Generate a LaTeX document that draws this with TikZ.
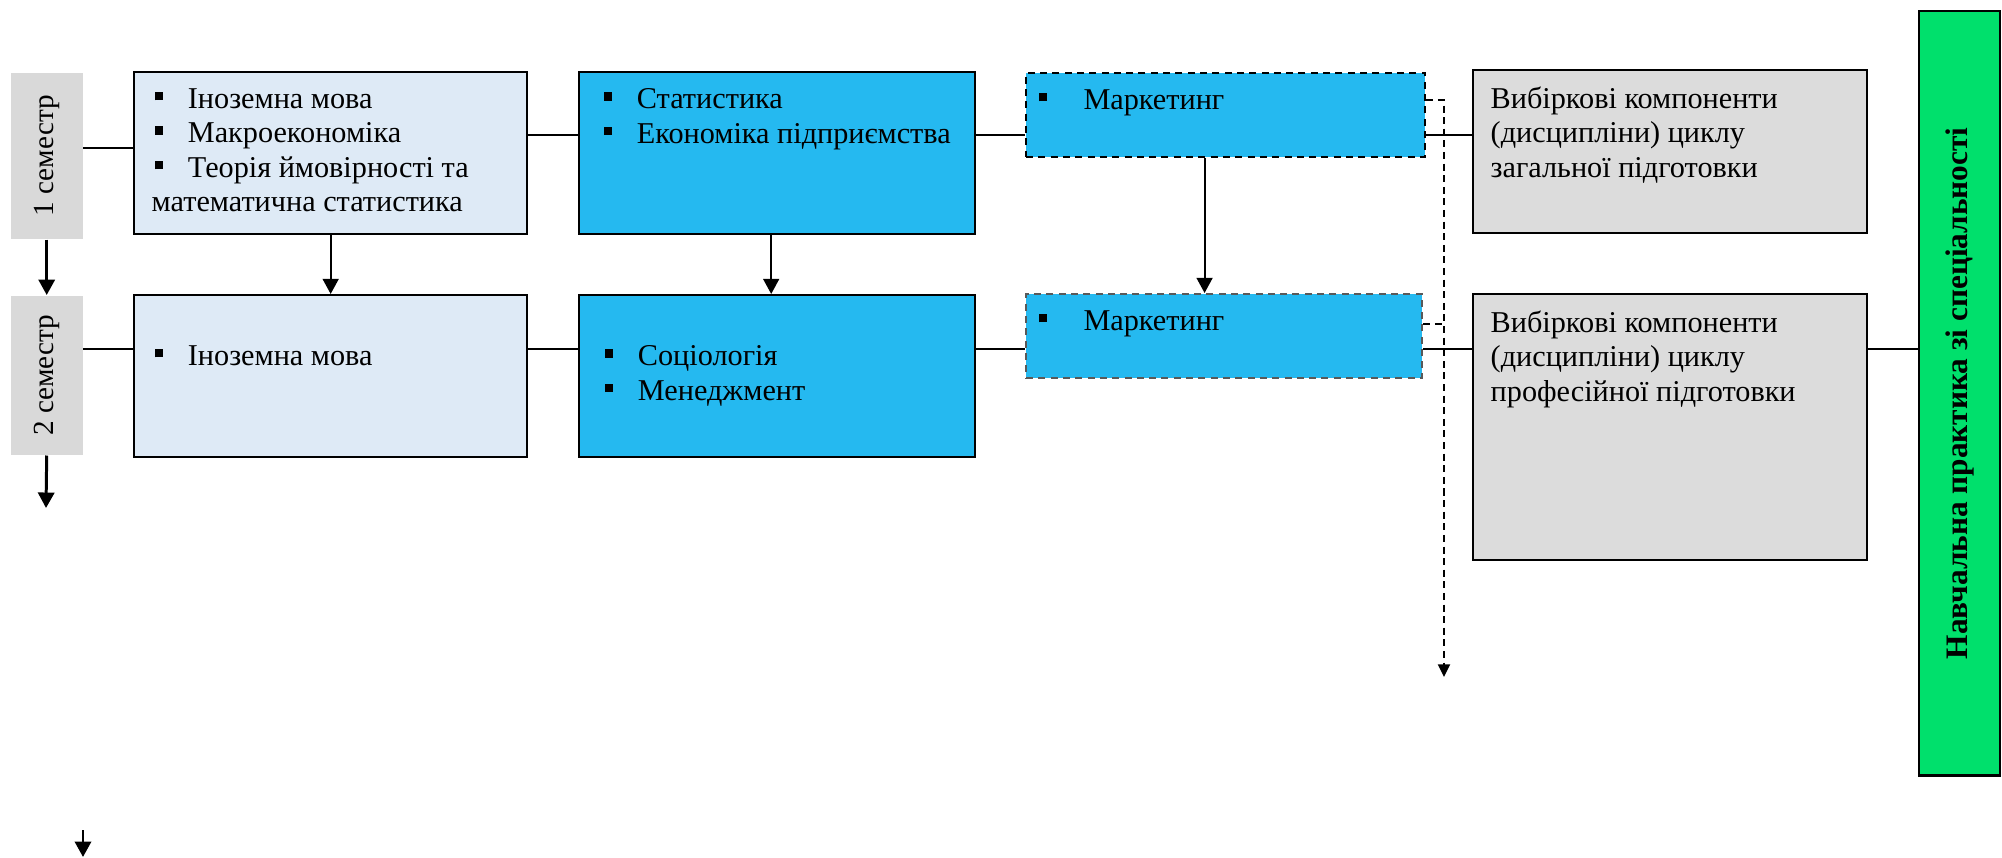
\documentclass[tikz,border=0pt]{standalone}
\usepackage{fontspec}
\setmainfont{Liberation Serif}
\usetikzlibrary{arrows.meta}
\definecolor{paleblue}{HTML}{DEEAF6}
\definecolor{skyblue}{HTML}{25B9F0}
\definecolor{semgrey}{HTML}{D9D9D9}
\definecolor{choicegrey}{HTML}{DCDCDC}
\definecolor{practgreen}{HTML}{00E06C}
\newcommand{\mrk}{\hspace*{0.9pt}\rule[2.3pt]{2.4pt}{2.4pt}\hspace*{7pt}}

\begin{document}
\begin{tikzpicture}[x=0.01cm, y=-0.01cm,
    font=\fontsize{8.6pt}{9.8pt}\selectfont,
    box/.style={draw, line width=0.6pt, anchor=north west, inner sep=0pt},
    sembox/.style={fill=semgrey, anchor=north west, inner sep=0pt, minimum width=0.72cm},
    semtxt/.style={rotate=90, font=\fontsize{8.3pt}{9.8pt}\selectfont},
    txt/.style={anchor=north west, inner sep=0pt, align=left},
    link/.style={line width=0.6pt},
    arr/.style={line width=0.6pt, -{Triangle[width=4.5pt,length=4.3pt]}},
    semarr/.style={line width=0.85pt, -{Triangle[width=4.6pt,length=4.4pt]}},
    dashlink/.style={line width=0.6pt, dash pattern=on 2pt off 1.3pt},
    dasharr/.style={dashlink, -{Triangle[width=3.4pt,length=3.6pt]}}]

    \useasboundingbox (0,0) rectangle (2002,857);

    %%% semesters
    \node[sembox, minimum height=1.66cm] (s1) at (10,72) {};
    \node[semtxt] (s1t) at (s1.center) {1 семестр};
    \node[sembox, minimum height=1.59cm] (s2) at (10,295) {};
    \node[semtxt] (s2t) at (s2.center) {2 семестр};

    %%% first row
    \node[box, fill=paleblue, minimum width=3.93cm, minimum height=1.62cm] (a1) at (133,71) {};
    \node[txt] (a1t) at ([shift={(18,17)}]a1.north west)
        {\mrk Іноземна мова\\ \mrk Макроекономіка\\ \mrk Теорія ймовірності та\\ математична статистика};
    \node[box, fill=skyblue, minimum width=3.96cm, minimum height=1.62cm] (b1) at (578,71) {};
    \node[txt] (b1t) at ([shift={(22,17)}]b1.north west)
        {\mrk Статистика\\ \mrk Економіка підприємства};
    \node[box, fill=skyblue, dash pattern=on 2pt off 1.5pt, minimum width=3.99cm, minimum height=0.84cm] (c1) at (1025,72) {};
    \node[txt] (c1t) at ([shift={(10,17)}]c1.north west) {\mrk\hspace*{3.3pt}Маркетинг};
    \node[box, fill=choicegrey, minimum width=3.94cm, minimum height=1.63cm] (d1) at (1472,69) {};
    \node[txt] (d1t) at ([shift={(18,17)}]d1.north west)
        {Вибіркові компоненти\\ (дисципліни) циклу\\ загальної підготовки};

    %%% second row
    \node[box, fill=paleblue, minimum width=3.93cm, minimum height=1.62cm] (a2) at (133,294) {};
    \node[txt] (a2t) at ([shift={(18,51)}]a2.north west) {\mrk Іноземна мова};
    \node[box, fill=skyblue, minimum width=3.96cm, minimum height=1.62cm] (b2) at (578,294) {};
    \node[txt] (b2t) at ([shift={(23,51)}]b2.north west)
        {\mrk Соціологія\\ \mrk Менеджмент};
    \node[box, fill=skyblue, draw=black!65, dash pattern=on 2pt off 1.5pt, minimum width=3.96cm, minimum height=0.84cm] (c2) at (1025,293) {};
    \node[txt] (c2t) at ([shift={(10,17)}]c2.north west) {\mrk\hspace*{3.3pt}Маркетинг};
    \node[box, fill=choicegrey, minimum width=3.94cm, minimum height=2.66cm] (d2) at (1472,293) {};
    \node[txt] (d2t) at ([shift={(18,17)}]d2.north west)
        {Вибіркові компоненти\\ (дисципліни) циклу\\ професійної підготовки};

    %%% practice
    \node[box, fill=practgreen, minimum width=0.81cm, minimum height=7.64cm] (e) at (1918,10) {};
    \node[rotate=90, font=\fontsize{8.9pt}{9.8pt}\selectfont\bfseries] (et) at (e.center)
        {Навчальна практика зі спеціальності};

    %%% levels of the joining lines
    \coordinate (r0) at (0,148);
    \coordinate (r1) at (0,135);
    \coordinate (r2) at (0,349);
    \coordinate (s2end) at (46,508);
    \coordinate (lowtop) at (83,830);
    \coordinate (lowend) at (83,857);
    \coordinate (dv) at (1444,677);

    \draw[link] (s1.east |- r0) -- (a1.west |- r0);
    \draw[link] (a1.east |- r1) -- (b1.west |- r1);
    \draw[link] (b1.east |- r1) -- (c1.west |- r1);
    \draw[link] (c1.east |- r1) -- (d1.west |- r1);

    \draw[link] (s2.east |- r2) -- (a2.west |- r2);
    \draw[link] (a2.east |- r2) -- (b2.west |- r2);
    \draw[link] (b2.east |- r2) -- (c2.west |- r2);
    \draw[link] (c2.east |- r2) -- (d2.west |- r2);
    \draw[link] (d2.east |- r2) -- (e.west |- r2);

    \draw[semarr] (s1.south) -- (s2.north);
    \draw[semarr] (s2.south) -- (s2end);
    \draw[semarr] (lowtop) -- (lowend);
    \draw[arr] (a1.south) -- (a2.north);
    \draw[arr] ([xshift=-1.7pt]b1.south) -- ([xshift=-1.7pt]b2.north);
    \draw[arr] ([xshift=-6pt]c1.south) -- ([xshift=-6pt]c1.south |- c2.north);

    \draw[dasharr] ([yshift=4.3pt]c1.east) -| (dv);
    \draw[dashlink] ([yshift=3.4pt]c2.east) -- ([yshift=3.4pt]c2.east -| dv);
\end{tikzpicture}
\end{document}
